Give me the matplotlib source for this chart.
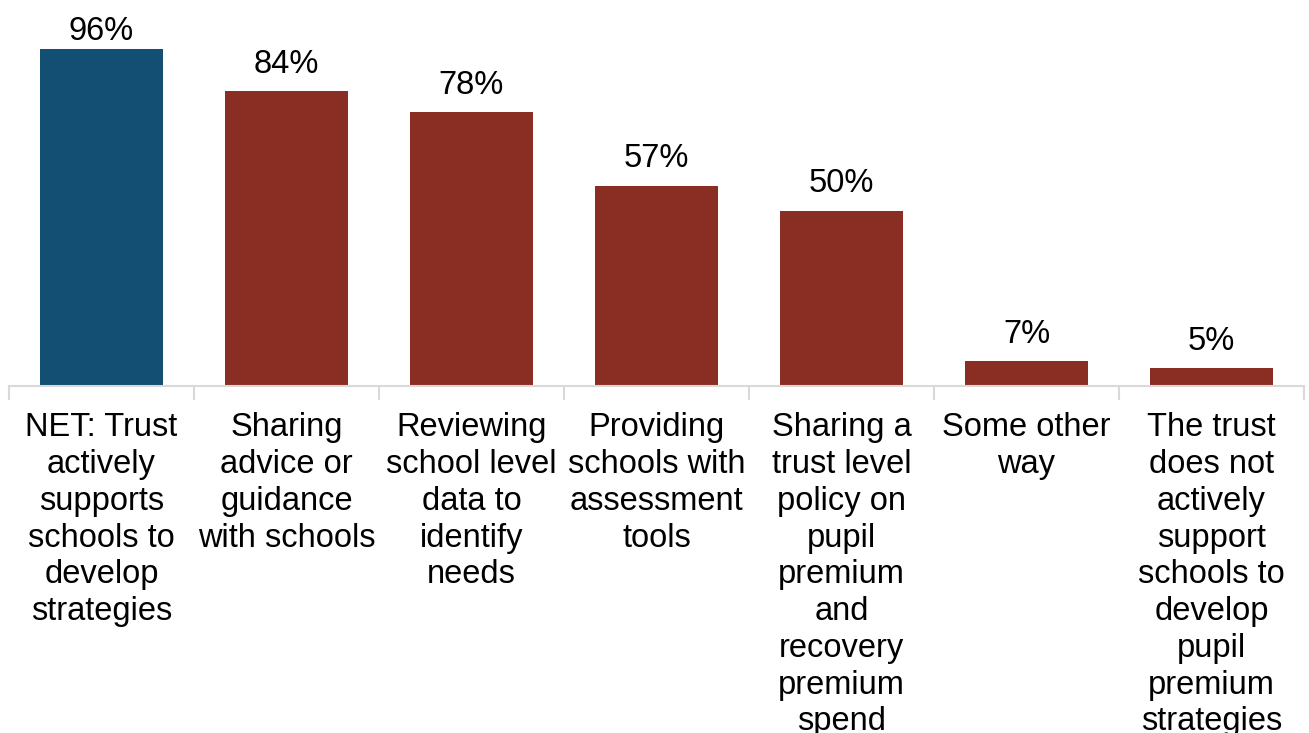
import matplotlib.pyplot as plt
import numpy as np

plt.rcParams['font.family'] = ['Liberation Sans', 'DejaVu Sans']

categories = [
    "NET: Trust\nactively\nsupports\nschools to\ndevelop\nstrategies",
    "Sharing\nadvice or\nguidance\nwith schools",
    "Reviewing\nschool level\ndata to\nidentify\nneeds",
    "Providing\nschools with\nassessment\ntools",
    "Sharing a\ntrust level\npolicy on\npupil\npremium\nand\nrecovery\npremium\nspend",
    "Some other\nway",
    "The trust\ndoes not\nactively\nsupport\nschools to\ndevelop\npupil\npremium\nstrategies",
]
values = [96, 84, 78, 57, 50, 7, 5]
colors = ["#124F73"] + ["#8A2E23"] * 6

W, H = 1309, 733
fig = plt.figure(figsize=(W / 100, H / 100), dpi=100)
ax = fig.add_axes([9 / W, (H - 386) / H, (1304 - 9) / W, (386 - 35) / H])

x = np.arange(len(values))
bars = ax.bar(x, values, width=0.67, color=colors)

# value labels above bars, held down near the top edge of the plot
for b, v in zip(bars, values):
    ax.text(b.get_x() + b.get_width() / 2, min(v + 3.3, 96.5), f"{v}%",
            ha="center", va="bottom", fontsize=23.5, clip_on=False)

ax.set_xlim(-0.5, len(values) - 0.5)
ax.set_ylim(0, 100)
ax.set_yticks([])

# category labels at bar centres, divider ticks between categories
ax.set_xticks(x)
ax.set_xticklabels(categories, fontsize=23.5, linespacing=1.24)
ax.tick_params(axis="x", which="major", length=0, pad=19)
ax.set_xticks(np.arange(-0.5, len(values)), minor=True)
ax.tick_params(axis="x", which="minor", length=10, width=1.5, color="#D9D9D9")

for side in ["top", "right", "left"]:
    ax.spines[side].set_visible(False)
ax.spines["bottom"].set_color("#D9D9D9")
ax.spines["bottom"].set_linewidth(1.5)

fig.savefig("out.png", dpi=100)
